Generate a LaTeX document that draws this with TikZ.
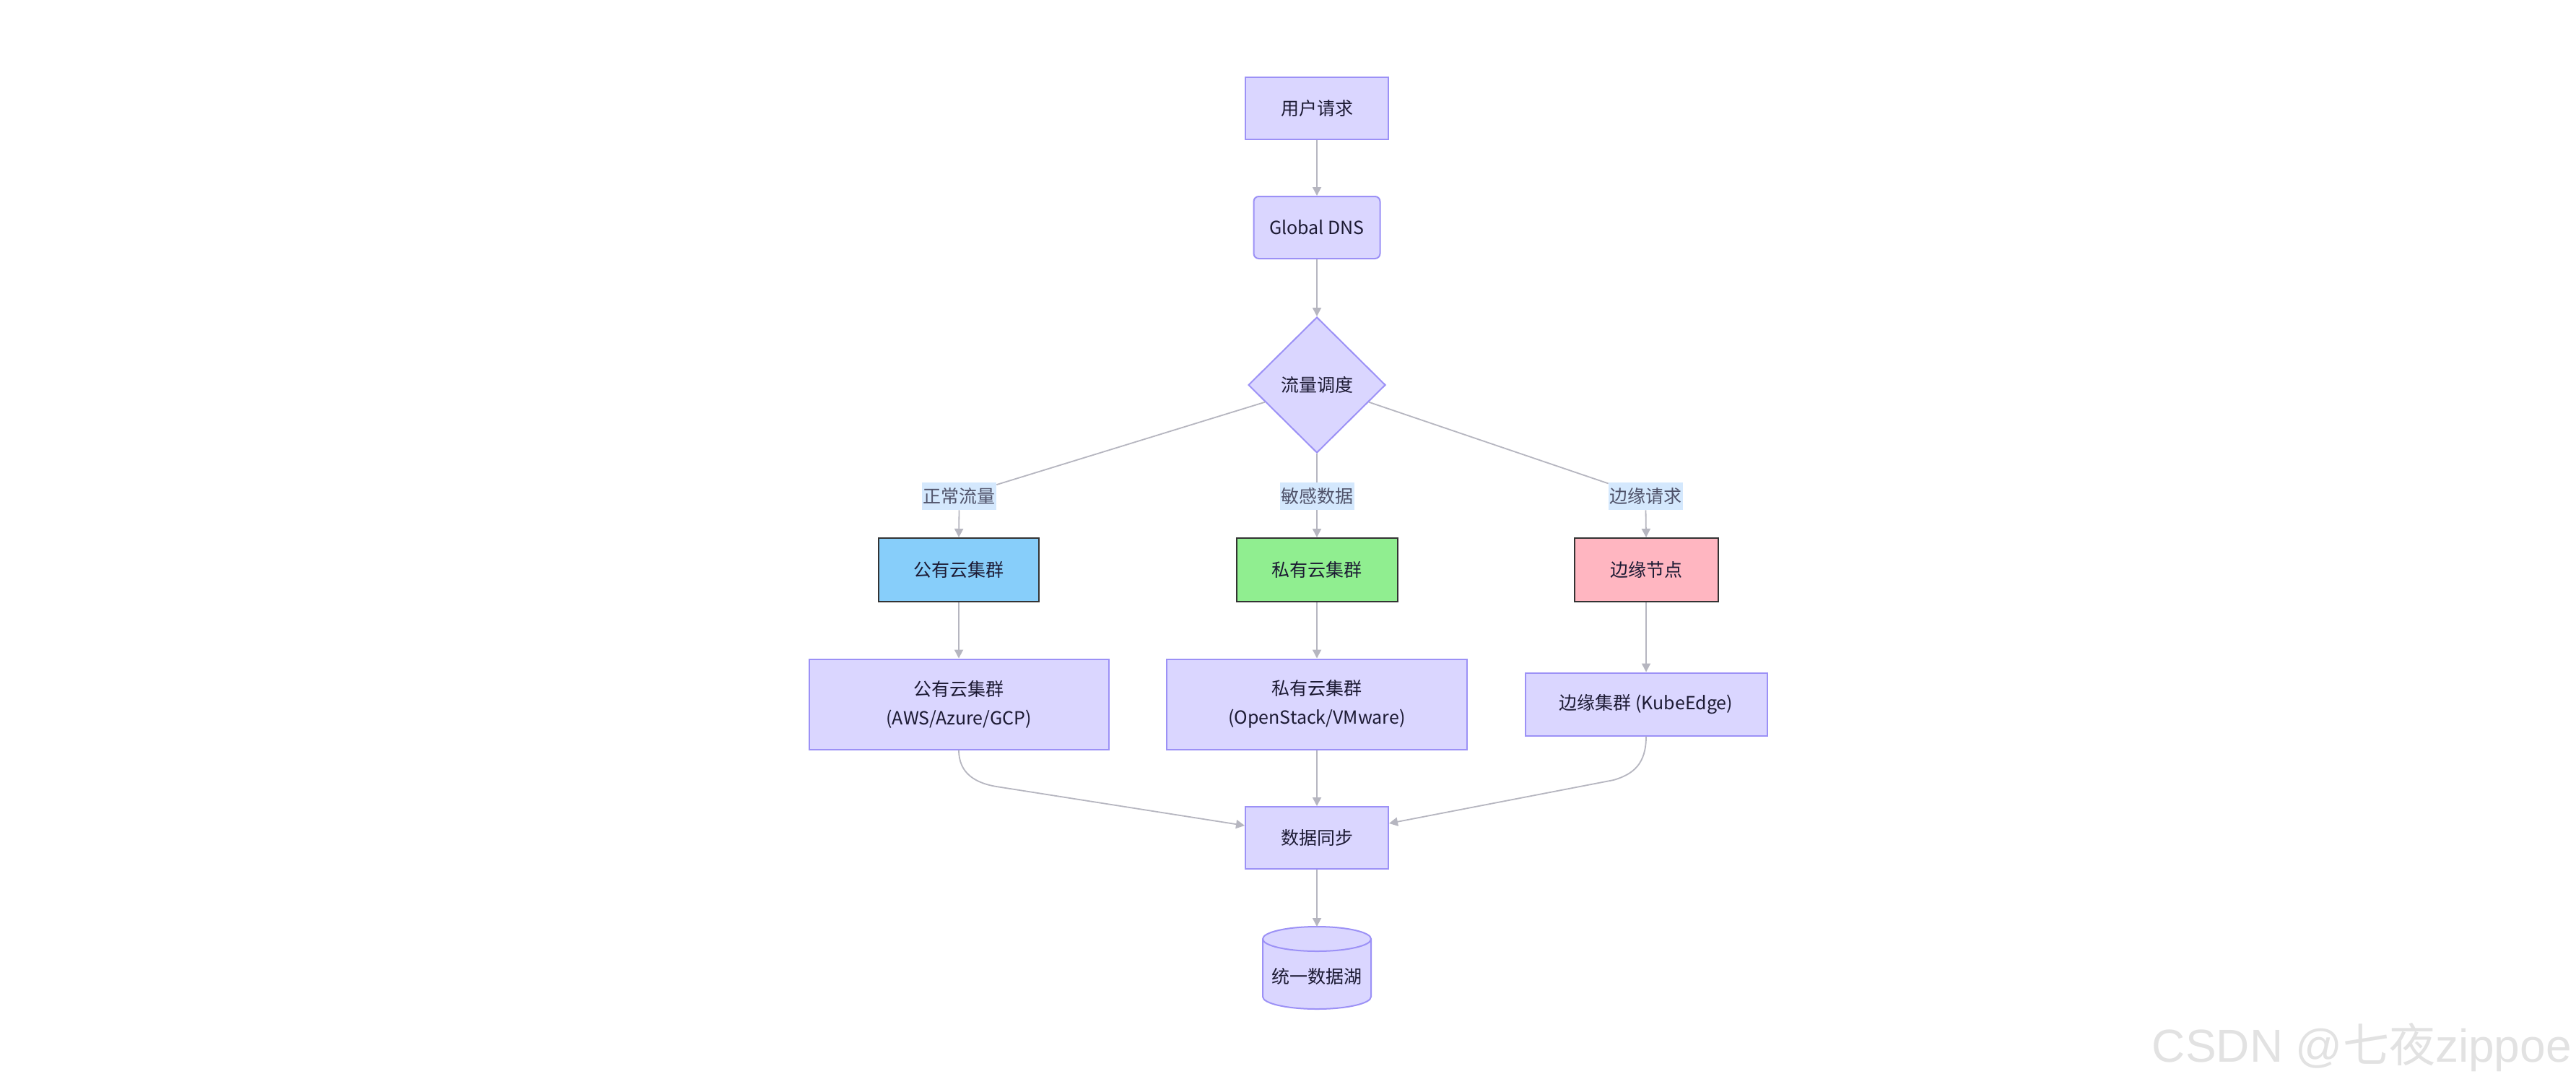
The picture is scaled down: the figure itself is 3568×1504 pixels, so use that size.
\documentclass[tikz,border=0pt]{standalone}
\usepackage{fontspec}
\setmainfont{Noto Sans CJK SC}
\newfontfamily\wmfont{Liberation Sans}
\newfontfamily\cjkfont{Noto Sans CJK SC}
\usetikzlibrary{arrows.meta,calc,shapes.geometric}
\definecolor{nodefill}{HTML}{DAD6FF}
\definecolor{nodeline}{HTML}{9C91F6}
\definecolor{edgecol}{HTML}{B6B6C0}
\definecolor{labbg}{HTML}{D4E8FD}
\definecolor{labtext}{HTML}{50536A}
\definecolor{txt}{HTML}{1C1A33}
\definecolor{pubfill}{HTML}{87CEFA}
\definecolor{privfill}{HTML}{90EE90}
\definecolor{edgefill}{HTML}{FFB6C1}
\definecolor{darkline}{HTML}{333333}
\definecolor{wmcol}{HTML}{E2E2E2}
\tikzset{
  box/.style={draw=nodeline, fill=nodefill, line width=1pt, text=txt,
    font=\fontsize{12.5}{20}\selectfont, inner sep=0pt, align=center},
  colbox/.style={box, draw=darkline},
  elabel/.style={fill=labbg, text=labtext, font=\fontsize{12.5}{20}\selectfont,
    inner sep=0pt, minimum width=51.5pt, minimum height=19pt},
  conn/.style={draw=edgecol, line width=0.9pt},
  arr/.style={conn, -{Triangle[length=6pt,width=6pt]}},
}
\begin{document}
\begin{tikzpicture}[x=0.5pt,y=-0.5pt]
\fill[white] (0,0) rectangle (3568,1504);
\useasboundingbox (0,0) rectangle (3568,1504);

% nodes
\node[box, minimum width=99pt, minimum height=43pt] (req) at (1824,150) {用户请求};
\node[box, rounded corners=3.5pt, minimum width=87.5pt, minimum height=43pt] (dns) at (1824,315) {Global DNS};
\node[box, diamond, minimum width=95pt, minimum height=94pt] (dia) at (1824,533) {流量调度};

\node[elabel] (lab1) at (1328.5,687) {正常流量};
\node[elabel] (lab2) at (1824,687) {敏感数据};
\node[elabel] (lab3) at (2279.5,687) {边缘请求};

\node[colbox, fill=pubfill, minimum width=111pt, minimum height=44pt] (pub) at (1328,789) {公有云集群};
\node[colbox, fill=privfill, minimum width=111.5pt, minimum height=44pt] (priv) at (1824,789) {私有云集群};
\node[colbox, fill=edgefill, minimum width=99.5pt, minimum height=44pt] (edgen) at (2280,789) {边缘节点};

\node[box, minimum width=207.5pt, minimum height=62.5pt] (pubc) at (1328,975) {公有云集群\\(AWS/Azure/GCP)};
\node[box, minimum width=208pt, minimum height=62.5pt] (privc) at (1824,975) {私有云集群\\(OpenStack/VMware)};
\node[box, minimum width=167.5pt, minimum height=43.5pt] (edgec) at (2280,975) {边缘集群 (KubeEdge)};

\node[box, minimum width=99pt, minimum height=43pt] (sync) at (1824,1160) {数据同步};

% cylinder
\draw[draw=nodeline, fill=nodefill, line width=1pt]
  (1749,1300) -- (1749,1380) arc[start angle=180, end angle=360, x radius=37.5pt, y radius=8.5pt]
  -- (1899,1300) arc[start angle=0, end angle=180, x radius=37.5pt, y radius=8.5pt] -- cycle;
\draw[draw=nodeline, line width=1pt]
  (1749,1300) arc[start angle=180, end angle=360, x radius=37.5pt, y radius=8.5pt];
\node[text=txt, font=\fontsize{12.5}{20}\selectfont, inner sep=0pt] (lake) at (1824,1352) {统一数据湖};
\coordinate (laketop) at (1824,1283);

% connectors
\draw[arr] (req.south) -- (dns.north);
\draw[arr] (dns.south) -- (dia.north);

\draw[conn] ($(dia.west)!0.25!(dia.south)$) -- (lab1);
\draw[arr] (lab1.south) -- (pub.north);
\draw[conn] (dia.south) -- (lab2.north);
\draw[arr] (lab2.south) -- (priv.north);
\draw[conn] ($(dia.east)!0.25!(dia.south)$) -- (lab3);
\draw[arr] (lab3.south) -- (edgen.north);

\draw[arr] (pub.south) -- (pubc.north);
\draw[arr] (priv.south) -- (privc.north);
\draw[arr] (edgen.south) -- (edgec.north);

\draw[arr] (pubc.south) .. controls (1328,1070) and (1350,1084) .. (1380,1089) -- ($(sync.west)+(0,-17)$);
\draw[arr] (privc.south) -- (sync.north);
\draw[arr] (edgec.south) .. controls (2280,1058) and (2262,1072) .. (2235,1080) -- ($(sync.east)+(0,-20)$);

\draw[arr] (sync.south) -- (laketop);

% watermark
\node[anchor=base east, inner sep=0pt, text=wmcol, font=\wmfont\fontsize{32}{32}\selectfont] (wm) at (3562,1470) {CSDN @{\cjkfont 七夜}zippoe};
\end{tikzpicture}
\end{document}
